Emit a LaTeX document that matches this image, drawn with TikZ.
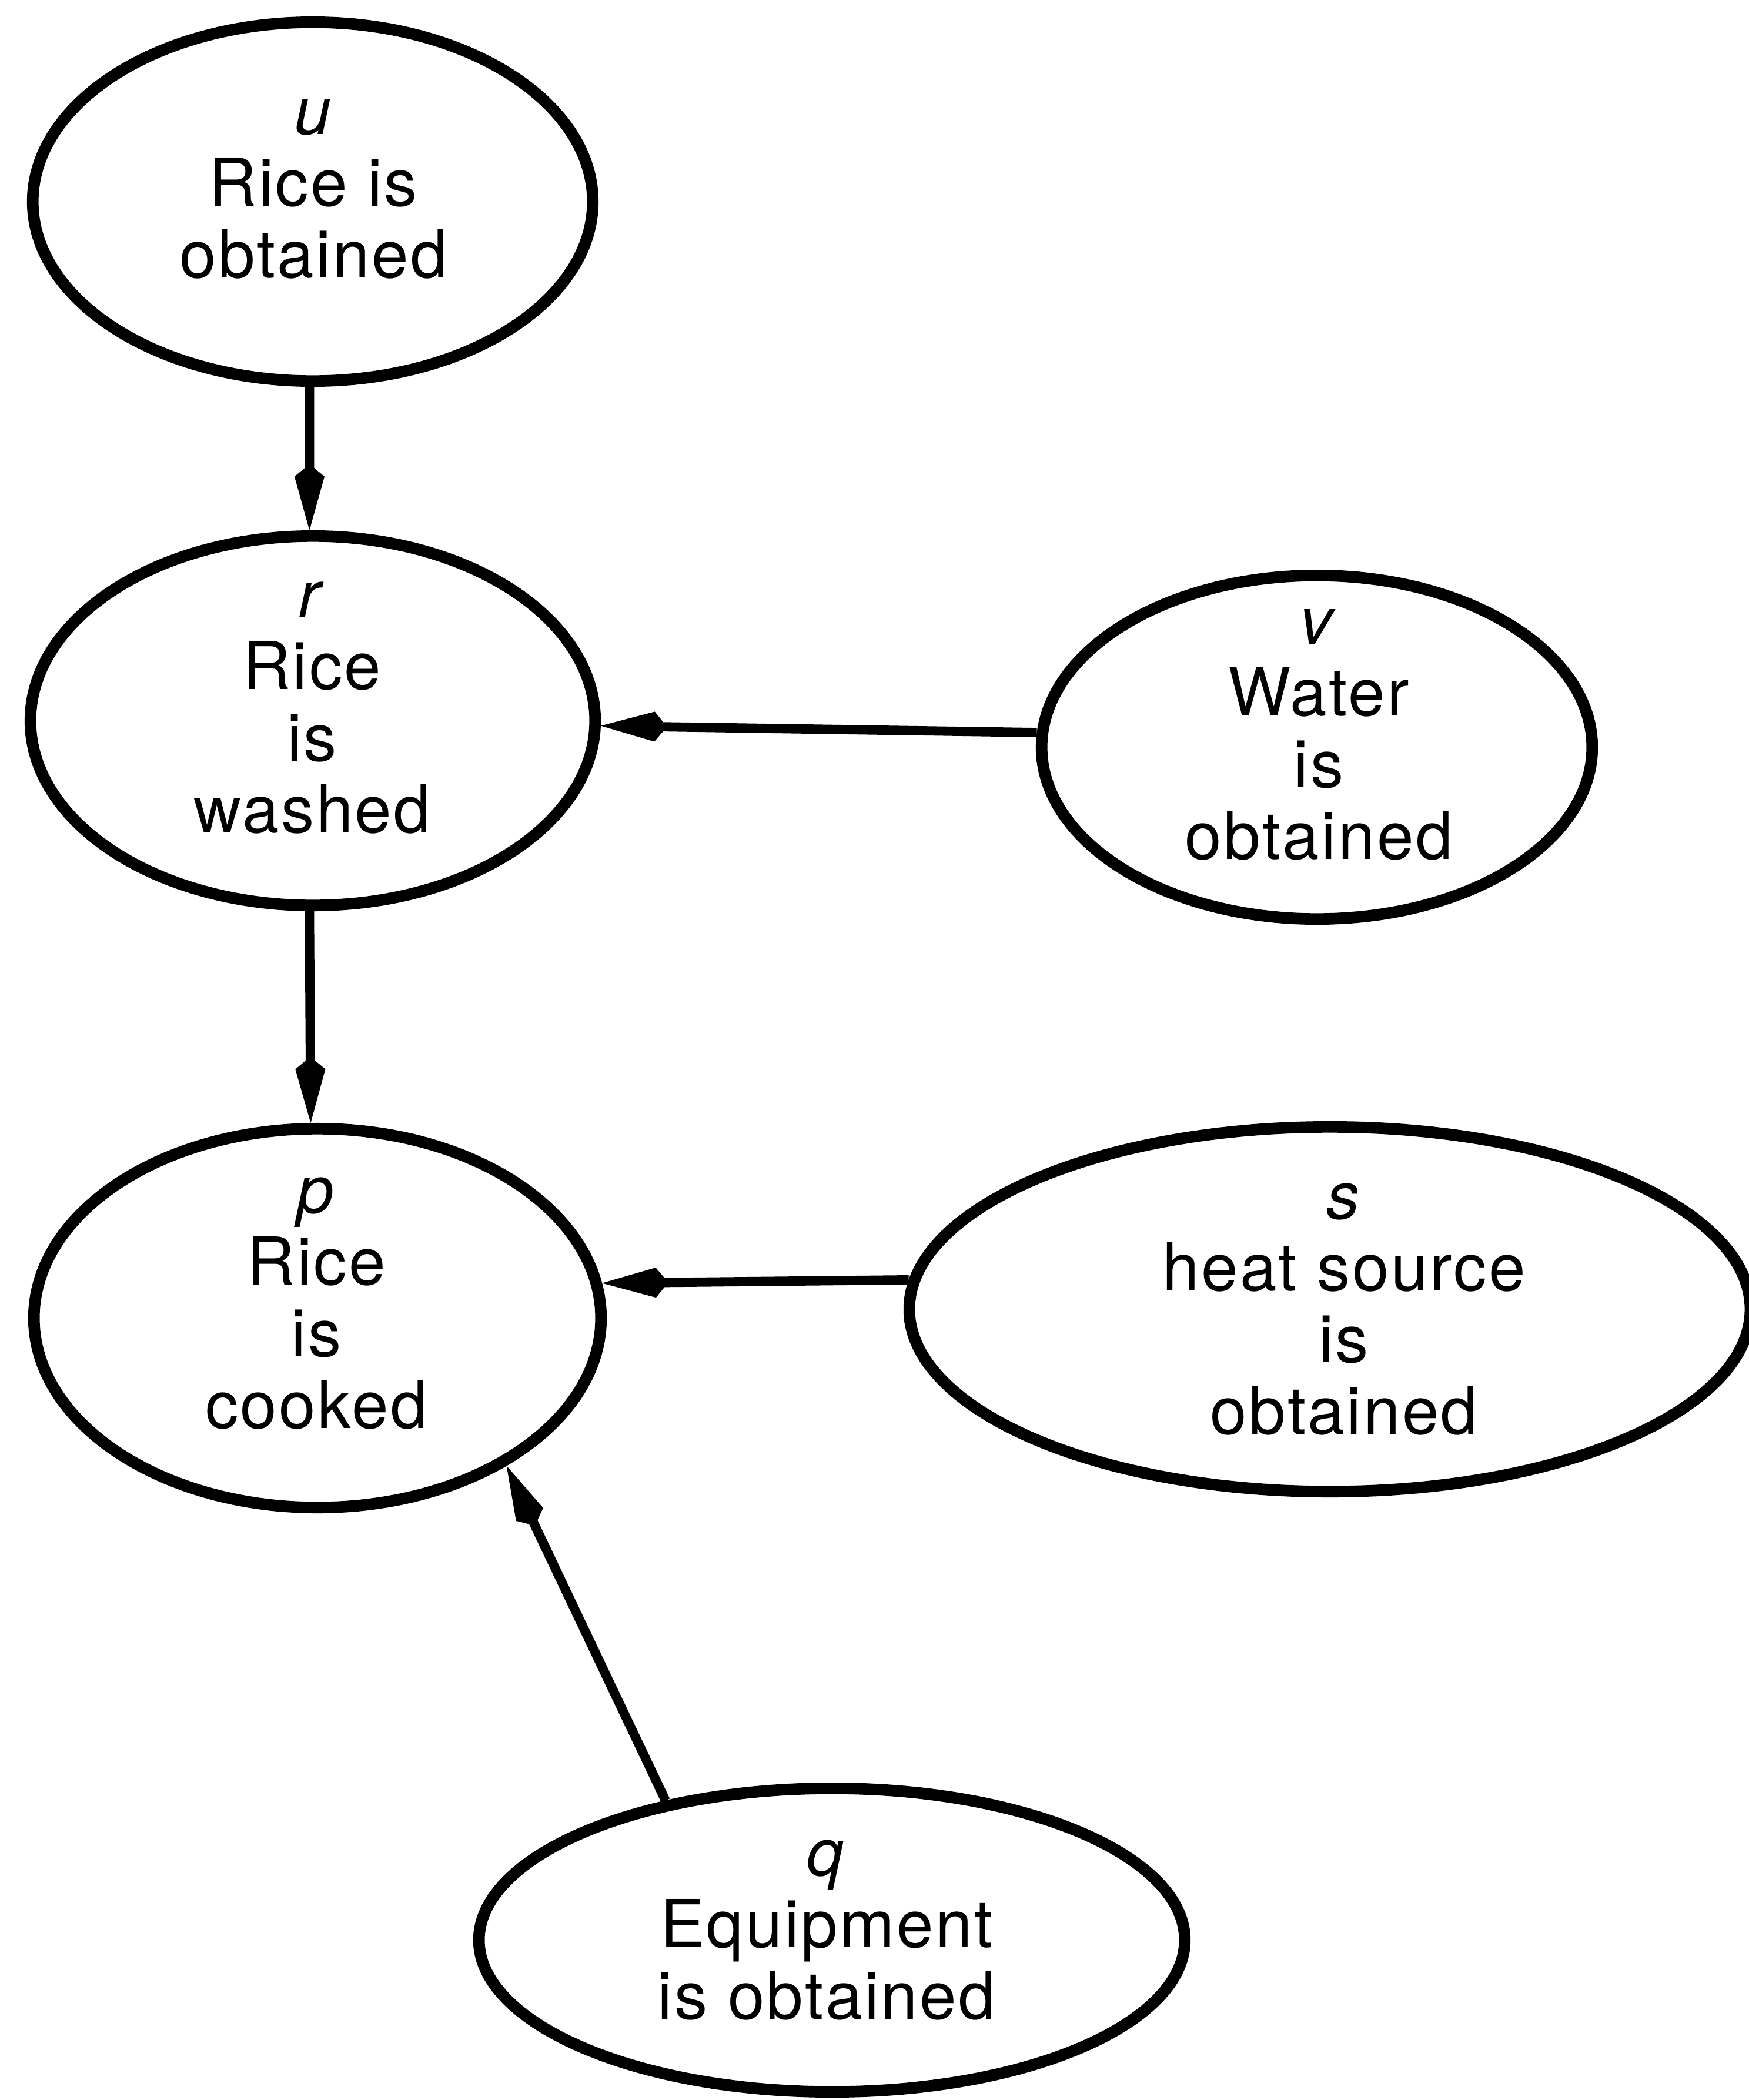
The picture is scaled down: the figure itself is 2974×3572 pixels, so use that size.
\documentclass[tikz,border=0pt]{standalone}
\usepackage{fontspec}
\setmainfont{TeX Gyre Heros}[LetterSpace=3]
\usetikzlibrary{arrows.meta,shapes.geometric}
\begin{document}
\begin{tikzpicture}[x=0.01cm,y=-0.01cm,
  event/.style={draw, ellipse, line width=5.6pt, inner sep=0pt},
  evtext/.style={anchor=base, inner sep=0pt, font=\fontsize{32}{34.7}\selectfont},
  link/.style={line width=4.5pt, -{Kite[length=32pt,width=14.5pt,inset=6pt]}}]
\useasboundingbox (0,0) rectangle (2974,3572);

% events
\node[event, minimum width=9.52cm, minimum height=6.10cm] (u) at (532,343) {};
\node[event, minimum width=9.60cm, minimum height=6.28cm] (r) at (532,1226) {};
\node[event, minimum width=9.36cm, minimum height=5.84cm] (v) at (2240,1271) {};
\node[event, minimum width=9.64cm, minimum height=6.44cm] (p) at (540,2242) {};
\node[event, minimum width=14.30cm, minimum height=6.20cm] (s) at (2262,2227) {};
\node[event, minimum width=12.00cm, minimum height=5.16cm] (q) at (1415,3300) {};

% event descriptions
\node[evtext] (u-text) at (533,228) {\begin{tabular}[t]{@{}c@{}}\textit{u}\\Rice is\\obtained\end{tabular}};
\node[evtext] (r-text) at (531,1050) {\begin{tabular}[t]{@{}c@{}}\textit{r}\\Rice\\is\\washed\end{tabular}};
\node[evtext] (v-text) at (2243,1095) {\begin{tabular}[t]{@{}c@{}}\textit{v}\\Water\\is\\obtained\end{tabular}};
\node[evtext] (p-text) at (538,2063) {\begin{tabular}[t]{@{}c@{}}\textit{p}\\Rice\\is\\cooked\end{tabular}};
\node[evtext] (s-text) at (2286,2073) {\begin{tabular}[t]{@{}c@{}}\textit{s}\\heat source\\is\\obtained\end{tabular}};
\node[evtext] (q-text) at (1406,3190) {\begin{tabular}[t]{@{}c@{}}\textit{q}\\Equipment\\is obtained\end{tabular}};

% precedence links
\draw[link] (u.-91.5) -- (r.91.5);
\draw[link] (r.-91) -- (p.92.3);
\draw[link] (v.177.3) -- (r.-1.9);
\draw[link] (s.176.5) -- (p.7);
\draw[link] (q.140.2) -- (p.-38.6);
\end{tikzpicture}
\end{document}
